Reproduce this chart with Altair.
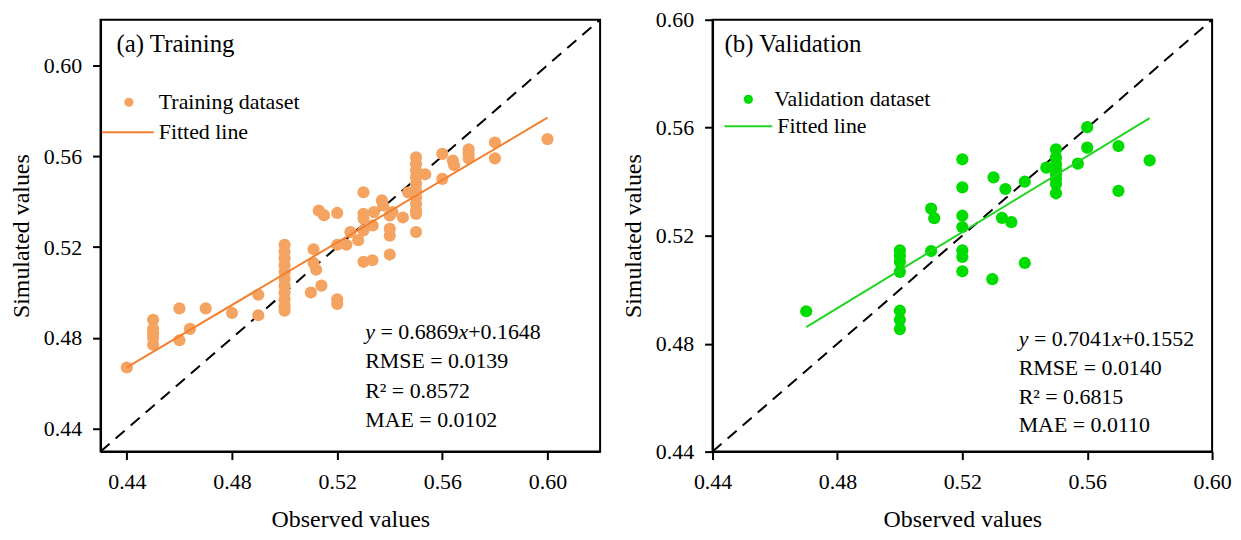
import altair as alt
import pandas as pd

# (a) training set: observed vs simulated
train_obs = [0.44, 0.45, 0.45, 0.45, 0.45, 0.45, 0.46, 0.46, 0.464, 0.47, 0.48, 0.49, 0.49,
             0.50, 0.50, 0.50, 0.50, 0.50, 0.50, 0.50, 0.50, 0.50, 0.50, 0.50,
             0.51, 0.511, 0.511, 0.512, 0.513, 0.515, 0.514,
             0.52, 0.52, 0.52, 0.52, 0.5235, 0.525, 0.528,
             0.53, 0.53, 0.53, 0.53, 0.53, 0.5334, 0.534, 0.5335, 0.537, 0.5375,
             0.54, 0.541, 0.54, 0.54, 0.54, 0.545, 0.547,
             0.55, 0.55, 0.55, 0.55, 0.55, 0.55, 0.55, 0.55, 0.55, 0.55, 0.55,
             0.5535, 0.56, 0.56, 0.564, 0.5645, 0.57, 0.57, 0.57, 0.58, 0.58, 0.60]
train_sim = [0.467, 0.488, 0.484, 0.482, 0.480, 0.477, 0.493, 0.479, 0.484, 0.493, 0.491, 0.499, 0.490,
             0.521, 0.518, 0.515, 0.512, 0.509, 0.506, 0.503, 0.500, 0.497, 0.494, 0.492,
             0.500, 0.519, 0.513, 0.510, 0.536, 0.534, 0.503,
             0.535, 0.521, 0.497, 0.495, 0.521, 0.5266, 0.523,
             0.5441, 0.5346, 0.5325, 0.5273, 0.5135, 0.5142, 0.5354, 0.5295, 0.5405, 0.5383,
             0.5339, 0.5354, 0.528, 0.525, 0.5167, 0.533, 0.544,
             0.5595, 0.5565, 0.5536, 0.5507, 0.5478, 0.5448, 0.5419, 0.539, 0.5361, 0.5346, 0.5266,
             0.552, 0.561, 0.550, 0.558, 0.556, 0.563, 0.561, 0.559, 0.566, 0.559, 0.5675]

# (b) validation set
val_obs = [0.47, 0.50, 0.50, 0.50, 0.50, 0.50, 0.50, 0.50,
           0.51, 0.511, 0.51,
           0.52, 0.52, 0.52, 0.52, 0.52, 0.52, 0.52,
           0.53, 0.5296, 0.5338, 0.5327, 0.5357, 0.54, 0.54,
           0.55, 0.55, 0.55, 0.55, 0.55, 0.55, 0.55, 0.55, 0.5469,
           0.557, 0.56, 0.56, 0.57, 0.57, 0.58]
val_sim = [0.492, 0.5146, 0.5125, 0.5103, 0.5066, 0.4922, 0.4888, 0.4854,
           0.530, 0.5265, 0.5143,
           0.5483, 0.5379, 0.5274, 0.5232, 0.5146, 0.5121, 0.5068,
           0.5416, 0.5039, 0.5373, 0.5266, 0.525, 0.540, 0.5099,
           0.552, 0.5489, 0.5465, 0.5446, 0.5428, 0.541, 0.5391, 0.5357, 0.5452,
           0.5467, 0.5602, 0.5526, 0.5532, 0.5366, 0.5479]

train_fit = (0.6869, 0.1648)
val_fit = (0.7041, 0.1552)
train_stats = ["0.6869", "0.1648", "RMSE = 0.0139", "R² = 0.8572", "MAE = 0.0102"]
val_stats = ["0.7041", "0.1552", "RMSE = 0.0140", "R² = 0.6815", "MAE = 0.0110"]
ticks = [0.44, 0.48, 0.52, 0.56, 0.60]

FONT = "Liberation Serif"
W, H = 502, 434


def label(s, x, y, size=22, style="normal"):
    return alt.Chart(pd.DataFrame({"t": [s]})).mark_text(
        align="left", baseline="middle", font=FONT, fontSize=size,
        fontStyle=style, color="black"
    ).encode(text="t:N", x=alt.value(x), y=alt.value(y))


def panel(obs, sim, fit, stats, lo, hi, pt_color, ln_color, name, title,
          title_x, leg, sx, sy, gap):
    pts = pd.DataFrame({"obs": obs, "sim": sim, "series": name})
    xs = [min(obs), max(obs)]
    fit_df = pd.DataFrame({"obs": xs, "sim": [fit[0] * v + fit[1] for v in xs],
                           "series": "Fitted line"})
    diag = pd.DataFrame({"obs": [lo, hi], "sim": [lo, hi]})

    x = alt.X("obs:Q", title="Observed values",
              scale=alt.Scale(domain=[lo, hi], nice=False, zero=False),
              axis=alt.Axis(values=ticks, format=".2f"))
    y = alt.Y("sim:Q", title="Simulated values",
              scale=alt.Scale(domain=[lo, hi], nice=False, zero=False),
              axis=alt.Axis(values=ticks, format=".2f"))

    dashed = alt.Chart(diag).mark_line(color="black", strokeWidth=2, strokeDash=[12, 8]).encode(x=x, y=y)
    dots = alt.Chart(pts).mark_circle(size=150, opacity=1).encode(
        x=x, y=y,
        fill=alt.Fill("series:N", scale=alt.Scale(range=[pt_color]),
                      legend=alt.Legend(title=None, orient="none", legendX=leg[0], legendY=leg[1],
                                        symbolType="circle", symbolSize=85, symbolOpacity=1,
                                        labelOffset=leg[4])))
    line = alt.Chart(fit_df).mark_line(strokeWidth=2).encode(
        x=x, y=y,
        stroke=alt.Stroke("series:N", scale=alt.Scale(range=[ln_color]),
                          legend=alt.Legend(title=None, orient="none", legendX=leg[2], legendY=leg[3],
                                            symbolType="stroke", symbolSize=leg[5] ** 2,
                                            symbolStrokeWidth=2, labelOffset=4)))

    texts = [
        label(title, title_x, 24, size=25),
        label("y", sx, sy, style="italic"),
        label("= " + stats[0], sx + 15.3, sy),
        label("x", sx + 93.7, sy, style="italic"),
        label("+" + stats[1], sx + 103.5, sy),
        label(stats[2], sx, sy + gap),
        label(stats[3], sx, sy + 2 * gap),
        label(stats[4], sx, sy + 3 * gap),
    ]
    return alt.layer(dashed, dots, line, *texts).properties(width=W, height=H)


left = panel(train_obs, train_sim, train_fit, train_stats, 0.43, 0.62,
             "#F5A361", "#F3802F", "Training dataset", "(a) Training",
             16, (17.5, 72, 0.5, 86, 19, 52), 266, 313.5, 29.6)
right = panel(val_obs, val_sim, val_fit, val_stats, 0.44, 0.60,
              "#00DB00", "#22D422", "Validation dataset", "(b) Validation",
              12, (25, 69, 11, 82, 15, 48), 307.6, 321, 28.9)

chart = alt.hconcat(left, right, spacing=15).resolve_scale(
    fill="independent", stroke="independent"
).properties(
    padding={"left": 0, "top": -1.5, "right": 0, "bottom": 0}
).configure_view(
    stroke="black", strokeWidth=2
).configure_axis(
    grid=False, domainColor="black", domainWidth=2, tickColor="black", tickWidth=2,
    tickSize=8, labelFont=FONT, labelFontSize=22, labelColor="black",
    labelFlush=False, labelOverlap=False,
    titleFont=FONT, titleFontSize=24, titleFontWeight="normal", titleColor="black"
).configure_axisX(
    labelPadding=12, titlePadding=15
).configure_axisY(
    labelPadding=11, titlePadding=10
).configure_legend(
    labelFont=FONT, labelFontSize=22, labelColor="black", padding=0, rowPadding=6
)

chart.save("out.html", embed_options={"renderer": "svg", "actions": False})
